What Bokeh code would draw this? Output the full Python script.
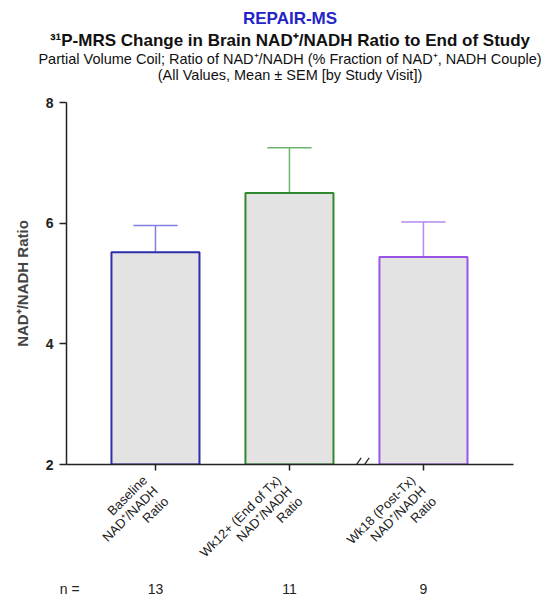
import math
from bokeh.plotting import figure
from bokeh.models import Range1d, FixedTicker, LinearAxis, Title, ColumnDataSource, Arrow
from bokeh.embed import file_html
from bokeh.resources import INLINE

# ---- data ----
categories = ["Baseline\nNAD\u207a/NADH\nRatio",
              "Wk12+ (End of Tx)\nNAD\u207a/NADH\nRatio",
              "Wk18 (Post-Tx)\nNAD\u207a/NADH\nRatio"]
means = [5.52, 6.50, 5.44]
sem = [0.44, 0.75, 0.58]
n_values = ["13", "11", "9"]
n_prefix = "n ="
y_ticks = [2, 4, 6, 8]

edge_colors = ["#2e2eaa", "#2f8a2f", "#9a55e6"]
err_colors = ["#7f7fe0", "#6db36d", "#b488ee"]

FONT = "Liberation Sans"
xs = list(range(len(categories)))
X0, X1 = -0.664, 2.672

p = figure(width=549, height=601, output_backend="svg", toolbar_location=None,
           x_range=Range1d(X0, X1), y_range=Range1d(2, 8),
           min_border_left=66, min_border_right=36, min_border_top=102, min_border_bottom=137)
p.outline_line_color = None
p.grid.grid_line_color = None
p.background_fill_color = "white"

src = ColumnDataSource(dict(x=xs, top=means, upper=[m + s for m, s in zip(means, sem)],
                            edge=edge_colors, err=err_colors,
                            cl=[x - 0.165 for x in xs], cr=[x + 0.165 for x in xs]))
p.segment(x0="x", y0="top", x1="x", y1="upper", source=src, line_color="err", line_width=1.5)
p.segment(x0="cl", y0="upper", x1="cr", y1="upper", source=src, line_color="err", line_width=1.5)
p.vbar(x="x", top="top", bottom=2, width=0.657, source=src, fill_color="#e3e3e3",
       line_color="edge", line_width=2)

# axes
p.yaxis.ticker = FixedTicker(ticks=y_ticks)
p.yaxis.minor_tick_line_color = None
p.yaxis.axis_label = "NAD\u207a/NADH Ratio"
p.yaxis.axis_label_text_font = FONT
p.yaxis.axis_label_text_font_style = "bold"
p.yaxis.axis_label_text_font_size = "15px"
p.yaxis.axis_label_standoff = 12
p.xaxis.ticker = FixedTicker(ticks=xs)
p.xaxis.major_label_overrides = {i: c for i, c in zip(xs, categories)}
p.xaxis.major_label_orientation = math.pi / 4
p.xaxis.minor_tick_line_color = None
for ax in (p.xaxis, p.yaxis):
    ax.axis_line_width = 1.5
    ax.axis_line_color = "#222222"
    ax.major_tick_line_width = 1.5
    ax.major_tick_line_color = "#222222"
    ax.major_tick_in = 0
    ax.major_label_text_font = FONT
    ax.major_label_text_color = "#222222"
p.yaxis.major_tick_out = 7
p.yaxis.major_label_standoff = 6
p.yaxis.major_label_text_font_style = "bold"
p.yaxis.major_label_text_font_size = "14px"
p.xaxis.major_tick_out = 6
p.xaxis.major_label_text_font_size = "13px"
p.xaxis.major_label_text_line_height = 1.0
p.xaxis.major_label_standoff = 18

# n = row as a second, line-less axis below
n_pos = X0 + 0.024
naxis = LinearAxis(ticker=FixedTicker(ticks=[n_pos] + xs),
                   major_label_overrides={**{n_pos: n_prefix}, **{i: t for i, t in zip(xs, n_values)}},
                   axis_line_color=None, major_tick_line_color=None, minor_tick_line_color=None,
                   major_tick_out=0, major_tick_in=0, major_label_standoff=-20,
                   major_label_text_font=FONT, major_label_text_font_size="14px",
                   major_label_text_color="#222222")
p.add_layout(naxis, "below")

# axis break marks
for dx in (0.0, 0.06):
    p.add_layout(Arrow(x_start=1.433 + dx, y_start=1.785, x_end=1.535 + dx, y_end=2.11,
                       end=None, start=None, line_color="#222222", line_width=1.2))

# titles (added nearest-first)
def ttl(text, size, bold=False, color="#111111", standoff=4, lh=1.2):
    p.add_layout(Title(text=text, align="center", standoff=standoff,
                       text_font=FONT, text_font_size=size, text_line_height=lh,
                       text_font_style="bold" if bold else "normal", text_color=color), "above")

ttl("(All Values, Mean \u00b1 SEM [by Study Visit])\n\u00a0", "14.5px", standoff=1, lh=1.172)
ttl("Partial Volume Coil; Ratio of NAD\u207a/NADH (% Fraction of NAD\u207a, NADH Couple)", "14.5px", standoff=-5)
ttl("\u00b3\u00b9P-MRS Change in Brain NAD\u207a/NADH Ratio to End of Study", "17px", True, standoff=4)
ttl("REPAIR-MS", "17px", True, "#2424c8", standoff=-2)

open("out.html", "w").write(file_html(p, INLINE))
